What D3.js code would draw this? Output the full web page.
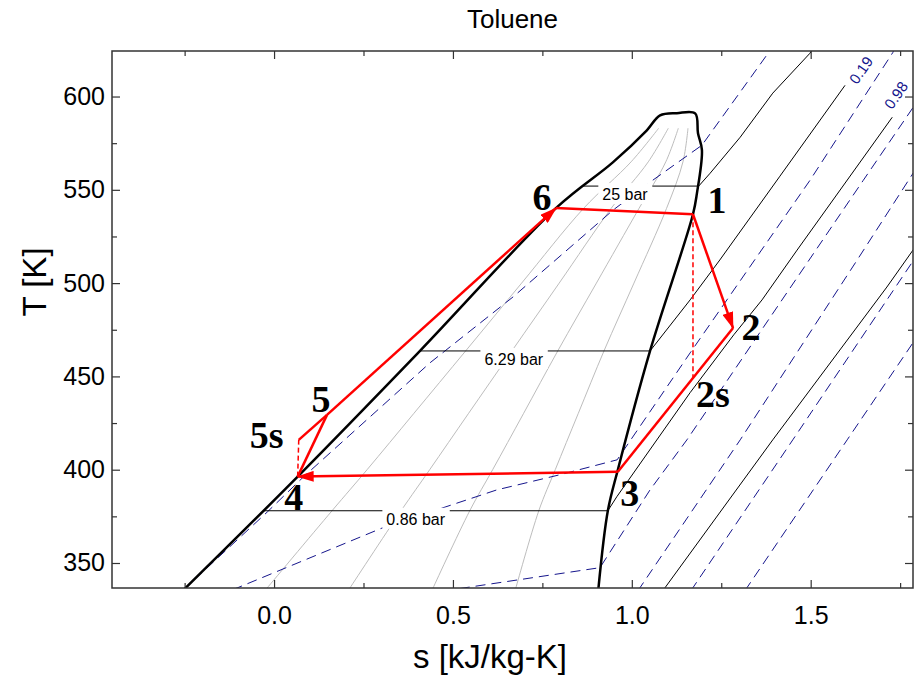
<!DOCTYPE html>
<html>
<head>
<meta charset="utf-8">
<script src="https://cdn.jsdelivr.net/npm/d3@7"></script>
<style>
body { margin: 0; background: #fff; }
svg { display: block; }
</style>
</head>
<body>
<div></div>
<script>
var width = 914;
var height = 679;
var plotL = 112, plotR = 913, plotT = 51, plotB = 588;

// tick values
var xTicks = [0.0, 0.5, 1.0, 1.5];
var xMinor = [-0.25, 0.25, 0.75, 1.25, 1.75];
var yTicks = [350, 400, 450, 500, 550, 600];
var yMinor = [375, 425, 475, 525, 575];

// saturation dome [s, T]
var dome = [[-0.256, 335], [0.066, 396.3], [0.408, 463.7], [0.791, 540.7], [0.947, 564.7],
            [1.042, 581.9], [1.079, 589.9], [1.126, 591.1], [1.177, 591.0], [1.185, 580.3],
            [1.196, 571.3], [1.182, 548.1], [1.171, 536.9], [1.051, 463.7], [0.961, 400],
            [0.933, 378], [0.906, 335]];

// constant quality lines (x = 0.2, 0.4, 0.6, 0.8)
var qualityT  = [336, 378, 400, 430, 464, 500, 540, 565, 583];
var quality02 = [-0.022, 0.162, 0.260, 0.390, 0.537, 0.692, 0.865, 0.998, 1.075];
var quality04 = [0.210, 0.355, 0.435, 0.543, 0.666, 0.797, 0.942, 1.046, 1.102];
var quality06 = [0.443, 0.547, 0.611, 0.697, 0.794, 0.901, 1.020, 1.095, 1.130];
var quality08 = [0.675, 0.740, 0.786, 0.850, 0.923, 1.006, 1.097, 1.143, 1.157];

// isochores (blue dashed)
var isochore1 = [[-0.252, 335], [-0.247, 336.8], [-0.018, 377.5], [0.083, 396.3], [0.436, 457.3],
                 [0.668, 492.6], [0.948, 539.2], [1.059, 555.2], [1.196, 573.9], [1.381, 623.2], [1.389, 627]];
var isochore2 = [[-0.116, 335.8], [-0.101, 336.8], [0.304, 368.9], [0.623, 389.2], [0.799, 397.3],
                 [0.959, 405.3], [1.163, 462.6], [1.498, 555.1], [1.730, 623.7], [1.736, 627]];
var isochore3 = [[0.519, 336.3], [0.911, 347.5], [1.051, 389.2], [1.154, 416.0], [1.647, 555.1], [1.80, 598]];
var isochore4 = [[1.018, 335], [1.023, 336.8], [1.303, 416.0], [1.630, 512.4], [1.80, 563]];
var isochore5 = [[1.168, 335], [1.171, 336.8], [1.450, 416.0], [1.80, 515.8]];
var isochore6 = [[1.319, 335], [1.322, 336.8], [1.602, 416.0], [1.80, 472]];

// isobars (black)
var isobar25  = [[0.864, 552], [1.187, 552], [1.219, 558.9], [1.303, 578.2], [1.394, 601.8], [1.498, 623.2], [1.51, 627]];
var isobar629 = [[0.408, 463.65], [1.051, 463.65], [1.163, 491.0], [1.246, 512.4], [1.414, 557.3], [1.596, 606]];
var isobar086 = [[-0.03, 378], [0.933, 378], [0.958, 385.5], [1.163, 441.3], [1.285, 472.3],
                 [1.364, 491.0], [1.462, 517.7], [1.728, 588.9]];
var isobarLow = [[1.088, 335], [1.093, 336.8], [1.394, 416.0], [1.713, 497.9], [1.80, 521.5]];

var isobarNames  = ["25 bar", "6.29 bar", "0.86 bar"];
var isobarLabelS = [0.981, 0.670, 0.396];
var isobarLabelT = [552, 463.65, 378];

var volumeNames  = ["0.19", "0.98"];
var volumeLabelS = [1.641, 1.739];
var volumeLabelT = [614.1, 600.7];

// cycle state points
var stateNames = ["1", "2", "2s", "3", "4", "5", "5s", "6"];
var stateS = [1.171, 1.283, 1.171, 0.961, 0.066, 0.148, 0.069, 0.788];
var stateT = [536.9, 475.9, 449.6, 398.9, 396.3, 429.4, 416.0, 540.2];
var solidSteps  = [["6", "1"], ["1", "2"], ["2", "3"], ["3", "4"], ["4", "5"], ["5", "6"], ["5s", "5"]];
var arrowSteps  = ["1-2", "3-4", "5-6"];
var dashedSteps = [["1", "2s"], ["4", "5s"]];

var x = d3.scaleLinear().domain([-0.453, 1.786]).range([plotL, plotR]);
var y = d3.scaleLinear().domain([336.6, 624.4]).range([plotB, plotT]);

var line = d3.line()
	.x(function(d) { return x(d[0]); })
	.y(function(d) { return y(d[1]); });

var svg = d3.select("div")
	.append("svg")
	.attr("width", width)
	.attr("height", height)
	.style("font-family", "'Liberation Sans', Arial, sans-serif");

var defs = svg.append("defs");
defs.append("clipPath")
	.attr("id", "plotclip")
	.append("rect")
	.attr("x", plotL).attr("y", plotT)
	.attr("width", plotR - plotL).attr("height", plotB - plotT);

defs.append("marker")
	.attr("id", "arrow")
	.attr("viewBox", "0 0 17 11")
	.attr("refX", 16).attr("refY", 5.5)
	.attr("markerWidth", 17).attr("markerHeight", 11)
	.attr("markerUnits", "userSpaceOnUse")
	.attr("orient", "auto")
	.append("path")
	.attr("d", "M0,0 L17,5.5 L0,11 Z")
	.attr("fill", "#ff0000");

var g = svg.append("g").attr("clip-path", "url(#plotclip)");

// quality lines
[quality02, quality04, quality06, quality08].forEach(function(q) {
	g.append("path")
		.attr("d", d3.line()
			.x(function(d) { return x(d); })
			.y(function(d, i) { return y(qualityT[i]); })
			.curve(d3.curveCatmullRom)(q))
		.attr("fill", "none")
		.attr("stroke", "#bdbdbd")
		.attr("stroke-width", 1);
});

// isochores
g.selectAll(".isochore")
	.data([isochore1, isochore2, isochore3, isochore4, isochore5, isochore6])
	.enter().append("path")
	.attr("class", "isochore")
	.attr("d", line)
	.attr("fill", "none")
	.attr("stroke", "#15158c")
	.attr("stroke-width", 1)
	.attr("stroke-dasharray", "10,6");

// isobars
g.selectAll(".isobar")
	.data([isobar25, isobar629, isobar086, isobarLow])
	.enter().append("path")
	.attr("class", "isobar")
	.attr("d", line)
	.attr("fill", "none")
	.attr("stroke", "#000")
	.attr("stroke-width", 1);

// isobar labels
isobarNames.forEach(function(name, i) {
	var t = g.append("text")
		.attr("x", x(isobarLabelS[i]))
		.attr("y", y(isobarLabelT[i]) + 14)
		.attr("text-anchor", "middle")
		.style("font-size", "16px")
		.text(name);
	var bb = t.node().getBBox();
	g.insert("rect", function() { return t.node(); })
		.attr("x", bb.x - 4).attr("y", y(isobarLabelT[i]) - 3)
		.attr("width", bb.width + 8).attr("height", 21)
		.attr("fill", "#fff");
});

volumeNames.forEach(function(name, i) {
	g.append("text")
		.attr("transform", "translate(" + x(volumeLabelS[i]) + "," + y(volumeLabelT[i]) + ") rotate(-55)")
		.attr("text-anchor", "middle")
		.attr("dy", "0.35em")
		.attr("fill", "#15158c")
		.style("font-size", "15px")
		.text(name);
});

// dome
g.append("path")
	.attr("d", d3.line()
		.x(function(d) { return x(d[0]); })
		.y(function(d) { return y(d[1]); })
		.curve(d3.curveCatmullRom)(dome))
	.attr("fill", "none")
	.attr("stroke", "#000")
	.attr("stroke-width", 2.5);

// cycle
function pt(name) {
	var i = stateNames.indexOf(name);
	return [stateS[i], stateT[i]];
}

dashedSteps.forEach(function(st) {
	g.append("path")
		.attr("d", line([pt(st[0]), pt(st[1])]))
		.attr("stroke", "#ff0000")
		.attr("stroke-width", 1.5)
		.attr("stroke-dasharray", "5,3");
});

solidSteps.forEach(function(st) {
	var p = g.append("path")
		.attr("d", line([pt(st[0]), pt(st[1])]))
		.attr("fill", "none")
		.attr("stroke", "#ff0000")
		.attr("stroke-width", 2.5);
	if (arrowSteps.indexOf(st[0] + "-" + st[1]) >= 0) {
		p.attr("marker-end", "url(#arrow)");
	}
});

// state labels
var labelDx = {"1": 24, "2": 18, "2s": 20, "3": 12, "4": -4, "5": -6, "5s": -32, "6": -14};
var labelDy = {"1": -1, "2": 12, "2s": 30, "3": 34, "4": 33, "5": -3, "5s": 8, "6": 2};
stateNames.forEach(function(name, i) {
	svg.append("text")
		.attr("x", x(stateS[i]) + labelDx[name])
		.attr("y", y(stateT[i]) + labelDy[name])
		.attr("text-anchor", "middle")
		.style("font-family", "'Liberation Serif', 'Times New Roman', serif")
		.style("font-weight", "bold")
		.style("font-size", "38px")
		.text(name);
});

// axes
var axisColor = "#333";
function styleAxis(sel) {
	sel.select(".domain").remove();
	sel.selectAll("line").attr("stroke", axisColor).attr("stroke-width", 1.2);
	sel.selectAll("text").style("font-size", "25px").attr("fill", "#000")
		.style("font-family", "'Liberation Sans', Arial, sans-serif");
}

svg.append("g").attr("transform", "translate(0," + plotB + ")")
	.call(d3.axisBottom(x).tickValues(xTicks).tickSizeInner(-8).tickSizeOuter(0).tickPadding(18)
		.tickFormat(d3.format(".1f")))
	.call(styleAxis);
svg.append("g").attr("transform", "translate(0," + plotB + ")")
	.call(d3.axisBottom(x).tickValues(xMinor).tickSizeInner(-5).tickSizeOuter(0).tickFormat(""))
	.call(styleAxis);
svg.append("g").attr("transform", "translate(0," + plotT + ")")
	.call(d3.axisTop(x).tickValues(xTicks).tickSizeInner(-8).tickSizeOuter(0).tickFormat(""))
	.call(styleAxis);
svg.append("g").attr("transform", "translate(0," + plotT + ")")
	.call(d3.axisTop(x).tickValues(xMinor).tickSizeInner(-5).tickSizeOuter(0).tickFormat(""))
	.call(styleAxis);
svg.append("g").attr("transform", "translate(" + plotL + ",0)")
	.call(d3.axisLeft(y).tickValues(yTicks).tickSizeInner(-8).tickSizeOuter(0).tickPadding(7))
	.call(styleAxis);
svg.append("g").attr("transform", "translate(" + plotL + ",0)")
	.call(d3.axisLeft(y).tickValues(yMinor).tickSizeInner(-5).tickSizeOuter(0).tickFormat(""))
	.call(styleAxis);
svg.append("g").attr("transform", "translate(" + plotR + ",0)")
	.call(d3.axisRight(y).tickValues(yTicks).tickSizeInner(-8).tickSizeOuter(0).tickFormat(""))
	.call(styleAxis);
svg.append("g").attr("transform", "translate(" + plotR + ",0)")
	.call(d3.axisRight(y).tickValues(yMinor).tickSizeInner(-5).tickSizeOuter(0).tickFormat(""))
	.call(styleAxis);

svg.append("rect")
	.attr("x", plotL).attr("y", plotT)
	.attr("width", plotR - plotL).attr("height", plotB - plotT)
	.attr("fill", "none")
	.attr("stroke", axisColor)
	.attr("stroke-width", 1.5);

svg.append("text")
	.attr("x", (plotL + plotR) / 2)
	.attr("y", 28)
	.attr("text-anchor", "middle")
	.style("font-size", "26px")
	.text("Toluene");

svg.append("text")
	.attr("x", 490)
	.attr("y", 668)
	.attr("text-anchor", "middle")
	.style("font-size", "33px")
	.text("s [kJ/kg-K]");

svg.append("text")
	.attr("transform", "translate(46,282) rotate(-90)")
	.attr("text-anchor", "middle")
	.style("font-size", "33px")
	.text("T [K]");
</script>
</body>
</html>
